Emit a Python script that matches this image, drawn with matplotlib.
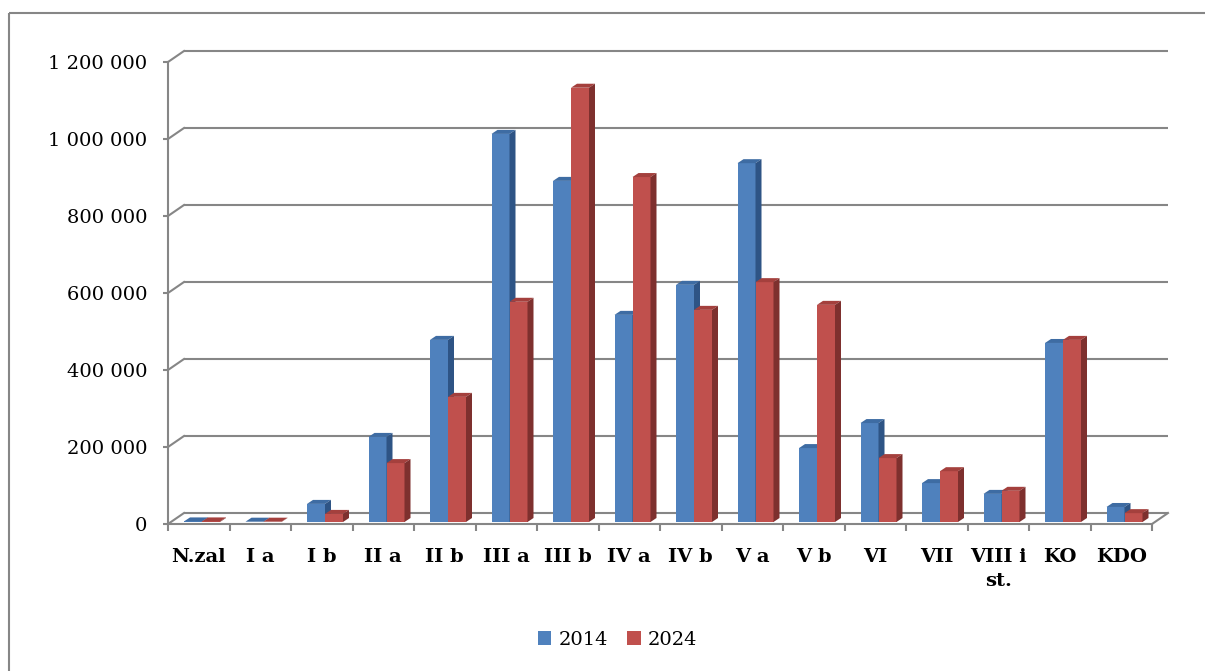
import matplotlib
matplotlib.use("Agg")
import matplotlib.pyplot as plt
from matplotlib.patches import Polygon, Patch
from matplotlib.lines import Line2D
from matplotlib.ticker import FuncFormatter, FixedLocator, NullFormatter

# ---------------- data ----------------
categories = ["N.zal", "I a", "I b", "II a", "II b", "III a", "III b", "IV a",
              "IV b", "V a", "V b", "VI", "VII", "VIII i\nst.", "KO", "KDO"]
series_names = ["2014", "2024"]
values_2014 = [1500, 800, 47000, 221000, 473000, 1008000, 886000, 538000,
               616000, 932000, 192000, 257000, 101000, 73000, 465000, 39000]
values_2024 = [1500, 800, 21000, 153000, 325000, 572000, 1128000, 896000,
               551000, 623000, 564000, 166000, 132000, 81000, 473000, 23000]
y_ticks = [0, 200000, 400000, 600000, 800000, 1000000, 1200000]

# ---------------- styles ----------------
W, H = 1205, 671
GRID = "#868686"
front_cols = ["#4F81BD", "#C0504D"]
top_cols = ["#3E6CA3", "#A4403D"]
side_cols = ["#2E5485", "#7E302E"]
FONT = "DejaVu Serif"

fig = plt.figure(figsize=(W / 100, H / 100), dpi=100)
fig.patch.set_edgecolor("white")
fig.patch.set_linewidth(0)
# outer frame (only left/top edges visible in the reference)
fx, fy = 8.5 / W, (H - 13) / H
fig.lines.append(Line2D([fx, 1.0], [fy, fy], transform=fig.transFigure,
                        color=GRID, lw=1.5, solid_capstyle="butt"))
fig.lines.append(Line2D([fx, fx], [fy, 0.0], transform=fig.transFigure,
                        color=GRID, lw=1.5, solid_capstyle="butt"))

ax_left, ax_right, ax_top, ax_bot = 168, 1152, 62, 524
ax = fig.add_axes([ax_left / W, (H - ax_bot) / H, (ax_right - ax_left) / W,
                   (ax_bot - ax_top) / H])
n = len(categories)
ymax = y_ticks[-1]
ax.set_xlim(0, n)
ax.set_ylim(0, ymax)
ax.patch.set_alpha(0)

# pixel -> data unit conversions
px_x = n / (ax_right - ax_left)
px_y = ymax / (ax_bot - ax_top)
DX, DY = 16 * px_x, 11 * px_y          # wall depth
bdx, bdy = 6 * px_x, 4 * px_y          # bar depth
base = 2 * px_y                        # bar base offset (depth)
bar_w = 18 * px_x
offsets = [16 * px_x, 34 * px_x]

# back wall gridlines + floor
for v in y_ticks:
    ax.plot([DX, n + DX], [v + DY, v + DY], color=GRID, lw=1.5,
            clip_on=False, zorder=1, solid_capstyle="butt")
    ax.plot([0, DX], [v, v + DY], color=GRID, lw=1.5, clip_on=False, zorder=1)
ax.plot([n, n + DX], [0, DY], color=GRID, lw=1.5, clip_on=False, zorder=1)

# 3D-looking bars
for s, vals in enumerate([values_2014, values_2024]):
    xs = [i + offsets[s] for i in range(n)]
    ax.bar(xs, vals, width=bar_w, bottom=base, align="edge",
           color=front_cols[s], linewidth=0, zorder=3 + s)
    for x0, v in zip(xs, vals):
        top = base + v
        ax.add_patch(Polygon([(x0, top), (x0 + bar_w, top),
                              (x0 + bar_w + bdx, top + bdy), (x0 + bdx, top + bdy)],
                             closed=True, facecolor=top_cols[s], edgecolor="none",
                             zorder=3 + s, clip_on=False))
        ax.add_patch(Polygon([(x0 + bar_w, base), (x0 + bar_w + bdx, base + bdy),
                              (x0 + bar_w + bdx, top + bdy), (x0 + bar_w, top)],
                             closed=True, facecolor=side_cols[s], edgecolor="none",
                             zorder=3 + s, clip_on=False))

# spines
for sp in ["top", "right"]:
    ax.spines[sp].set_visible(False)
for sp in ["left", "bottom"]:
    ax.spines[sp].set_color(GRID)
    ax.spines[sp].set_linewidth(1.5)
    ax.spines[sp].set_zorder(2)

# y axis
ax.yaxis.set_major_locator(FixedLocator(y_ticks))
ax.yaxis.set_major_formatter(FuncFormatter(lambda v, p: f"{int(v):,}".replace(",", " ")))
ax.tick_params(axis="y", direction="out", length=3.6, width=1.5, color=GRID,
               pad=11.5, labelsize=14, labelcolor="black")
for t in ax.get_yticklabels():
    t.set_fontfamily(FONT)

# x axis
ax.xaxis.set_major_locator(FixedLocator(list(range(n + 1))))
ax.xaxis.set_major_formatter(NullFormatter())
ax.xaxis.set_minor_locator(FixedLocator([i + 0.5 for i in range(n)]))
ax.set_xticklabels(categories, minor=True, fontfamily=FONT, fontweight="bold",
                   fontsize=14, linespacing=1.45)
ax.tick_params(axis="x", which="major", direction="out", length=5, width=1.5,
               color=GRID)
ax.tick_params(axis="x", which="minor", length=0, pad=17)

# legend
handles = [Patch(facecolor=c, edgecolor="none") for c in front_cols]
fig.legend(handles, series_names, ncol=2, loc="center",
           bbox_to_anchor=(617.5 / W, (H - 640) / H), frameon=False,
           handlelength=0.7, handleheight=0.7, handletextpad=0.35,
           columnspacing=1.0, prop={"family": FONT, "size": 14})

fig.savefig("out.png", dpi=100)
